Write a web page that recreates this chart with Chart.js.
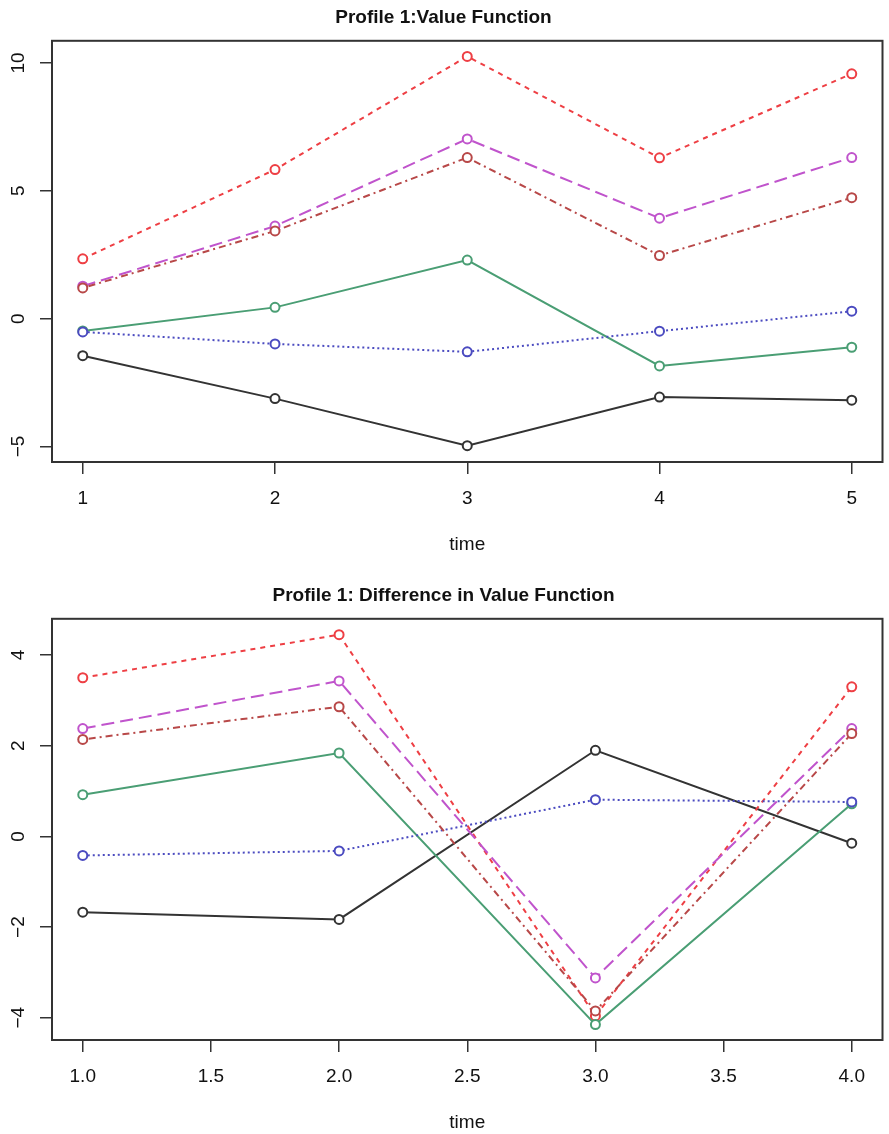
<!DOCTYPE html>
<html>
<head>
    <title>Profile 1: Value Function</title>
    <script src="https://cdn.jsdelivr.net/npm/chart.js"></script>
    <style>
        body { margin: 0; background: #fff; }
        #wrap { position: relative; width: 889px; height: 1134px; }
        .panel { position: absolute; left: 0; width: 889px; height: 556px; }
    </style>
</head>
<body>
<div id="wrap">
    <div class="panel" style="top:0px"><canvas id="topChart" width="889" height="556"></canvas></div>
    <div class="panel" style="top:578px"><canvas id="diffChart" width="889" height="556"></canvas></div>
</div>
<script>
    // top panel: value function over time
    const timeTop = [1, 2, 3, 4, 5];
    const valueBlack   = [-1.45, -3.13, -4.97, -3.07, -3.19];
    const valueRed     = [2.34, 5.83, 10.26, 6.29, 9.58];
    const valueGreen   = [-0.48, 0.44, 2.29, -1.85, -1.12];
    const valueBlue    = [-0.52, -0.99, -1.30, -0.49, 0.29];
    const valueMagenta = [1.27, 3.62, 7.03, 3.93, 6.30];
    const valueBrown   = [1.20, 3.43, 6.30, 2.47, 4.73];

    // bottom panel: difference in value function
    const timeDiff = [1, 2, 3, 4];
    const diffBlack   = [-1.67, -1.83, 1.90, -0.15];
    const diffRed     = [3.50, 4.45, -3.96, 3.30];
    const diffGreen   = [0.92, 1.84, -4.15, 0.72];
    const diffBlue    = [-0.42, -0.32, 0.81, 0.76];
    const diffMagenta = [2.38, 3.43, -3.12, 2.38];
    const diffBrown   = [2.14, 2.86, -3.85, 2.27];

    // tick labels
    const topXTicks = [1, 2, 3, 4, 5];
    const topYTicks = [-5, 0, 5, 10];
    const diffXTicks = [1, 1.5, 2, 2.5, 3, 3.5, 4];
    const diffYTicks = [-4, -2, 0, 2, 4];

    const lineStyles = [
        { color: '#333333', dash: [] },
        { color: '#ee3f44', dash: [5, 5] },
        { color: '#4a9e74', dash: [] },
        { color: '#4b4bc0', dash: [2, 3] },
        { color: '#c054cc', dash: [13, 6] },
        { color: '#b84848', dash: [2, 4, 7, 4] }
    ];

    const fontFamily = '"Liberation Sans", Arial, sans-serif';
    const minus = v => v < 0 ? '\u2212' + Math.abs(v) : String(v);

    // draws the closed box round the plot region, like R's box()
    const boxPlugin = {
        id: 'plotBox',
        afterDraw(chart) {
            const a = chart.chartArea;
            const ctx = chart.ctx;
            ctx.save();
            ctx.strokeStyle = '#333';
            ctx.lineWidth = 2;
            ctx.strokeRect(a.left, a.top, a.right - a.left, a.bottom - a.top);
            ctx.restore();
        }
    };

    function makeChart(id, title, times, series, xTicks, yTicks, xMin, xMax, yMin, yMax, xFmt) {
        const datasets = series.map((vals, i) => ({
            label: 'series ' + (i + 1),
            data: times.map((t, j) => ({ x: t, y: vals[j] })),
            borderColor: lineStyles[i].color,
            borderDash: lineStyles[i].dash,
            borderWidth: 2,
            pointRadius: 4.5,
            pointBorderWidth: 2,
            pointBorderColor: lineStyles[i].color,
            pointBackgroundColor: '#fff',
            tension: 0,
            order: series.length - i
        }));

        return new Chart(document.getElementById(id), {
            type: 'line',
            data: { datasets: datasets },
            plugins: [boxPlugin],
            options: {
                responsive: false,
                animation: false,
                layout: { padding: { right: 2 } },
                plugins: {
                    legend: { display: false },
                    tooltip: { enabled: false },
                    title: {
                        display: true,
                        text: title,
                        color: '#111',
                        font: { family: fontFamily, weight: 'bold', size: 19 },
                        lineHeight: 1.2,
                        padding: { top: 6, bottom: 12 }
                    }
                },
                scales: {
                    x: {
                        type: 'linear',
                        min: xMin,
                        max: xMax,
                        afterBuildTicks: s => { s.ticks = xTicks.map(v => ({ value: v })); },
                        afterFit: s => { s.height = 94; },
                        border: { display: false },
                        grid: { display: true, drawOnChartArea: false, drawTicks: true, tickLength: 12, color: '#333', lineWidth: 1.5 },
                        ticks: {
                            color: '#111',
                            padding: 13,
                            maxRotation: 0,
                            font: { family: fontFamily, size: 19 },
                            callback: v => xFmt(v)
                        },
                        title: {
                            display: true,
                            text: 'time',
                            color: '#111',
                            font: { family: fontFamily, size: 19 },
                            padding: { top: 0, bottom: 0 }
                        }
                    },
                    y: {
                        type: 'linear',
                        min: yMin,
                        max: yMax,
                        afterBuildTicks: s => { s.ticks = yTicks.map(v => ({ value: v })); },
                        afterFit: s => { s.width = 52; },
                        border: { display: false },
                        grid: { display: true, drawOnChartArea: false, drawTicks: true, tickLength: 12, color: '#333', lineWidth: 1.5 },
                        ticks: {
                            color: '#111',
                            padding: 10,
                            minRotation: 90,
                            maxRotation: 90,
                            crossAlign: 'center',
                            font: { family: fontFamily, size: 19 },
                            callback: v => minus(v)
                        }
                    }
                }
            }
        });
    }

    makeChart('topChart', 'Profile 1:Value Function', timeTop,
        [valueBlack, valueRed, valueGreen, valueBlue, valueMagenta, valueBrown],
        topXTicks, topYTicks, 0.84, 5.16, -5.61, 10.87, v => String(v));

    makeChart('diffChart', 'Profile 1: Difference in Value Function', timeDiff,
        [diffBlack, diffRed, diffGreen, diffBlue, diffMagenta, diffBrown],
        diffXTicks, diffYTicks, 0.88, 4.12, -4.49, 4.80, v => v.toFixed(1));
</script>
</body>
</html>
